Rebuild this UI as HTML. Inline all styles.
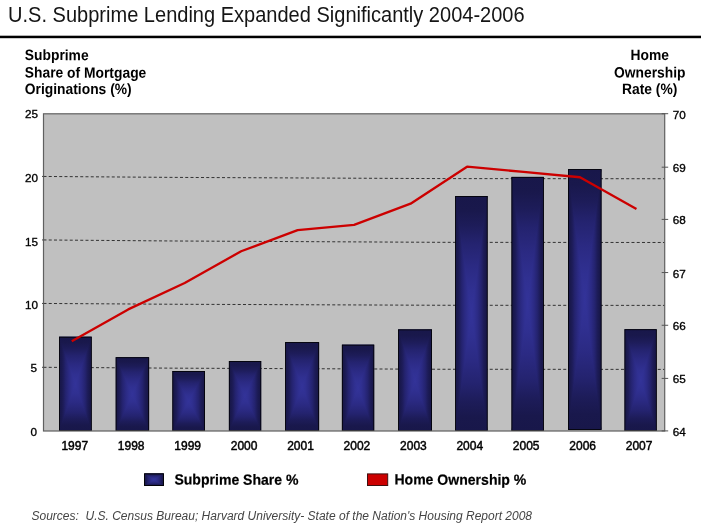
<!DOCTYPE html>
<html><head><meta charset="utf-8"><title>U.S. Subprime Lending Expanded Significantly 2004-2006</title>
<style>
html,body{margin:0;padding:0;background:#fff;}
svg{display:block;font-family:"Liberation Sans",Arial,sans-serif;}
.ax{font-size:12px;fill:#000;stroke:#000;stroke-width:0.45px;}
.b{font-weight:bold;}
</style></head><body>
<svg width="701" height="529" viewBox="0 0 701 529">
<defs>
<linearGradient id="gh" x1="0" y1="0" x2="1" y2="0"><stop offset="0.000" stop-color="#18174a"/><stop offset="0.060" stop-color="#19184c"/><stop offset="0.125" stop-color="#1d1c59"/><stop offset="0.200" stop-color="#24236f"/><stop offset="0.300" stop-color="#2b2a83"/><stop offset="0.400" stop-color="#303091"/><stop offset="0.500" stop-color="#333399"/><stop offset="0.600" stop-color="#303091"/><stop offset="0.700" stop-color="#2b2a83"/><stop offset="0.800" stop-color="#24236f"/><stop offset="0.875" stop-color="#1d1c59"/><stop offset="0.940" stop-color="#19184c"/><stop offset="1.000" stop-color="#18174a"/></linearGradient>
<linearGradient id="gt" x1="0" y1="0" x2="0" y2="1"><stop offset="0" stop-color="#18174a"/><stop offset="0.12" stop-color="#19184c"/><stop offset="0.25" stop-color="#1d1c59"/><stop offset="0.4" stop-color="#24236f"/><stop offset="0.6" stop-color="#2b2a83"/><stop offset="0.8" stop-color="#303091"/><stop offset="1" stop-color="#333399"/></linearGradient>
<linearGradient id="gb" x1="0" y1="1" x2="0" y2="0"><stop offset="0" stop-color="#18174a"/><stop offset="0.12" stop-color="#19184c"/><stop offset="0.25" stop-color="#1d1c59"/><stop offset="0.4" stop-color="#24236f"/><stop offset="0.6" stop-color="#2b2a83"/><stop offset="0.8" stop-color="#303091"/><stop offset="1" stop-color="#333399"/></linearGradient>
</defs>
<rect width="701" height="529" fill="#fff"/>
<text transform="translate(8.1 22.0) scale(1.0016 1.07)" x="0" y="0" font-size="20px" fill="#151515">U.S. Subprime Lending Expanded Significantly 2004-2006</text>
<rect x="0" y="35.7" width="701" height="2.5" fill="#000"/>

<g class="b" font-size="13.85px" fill="#000">
<text transform="translate(24.8 60.1) rotate(0.04) scale(1 1.085)" x="0" y="0">Subprime</text>
<text transform="translate(24.8 77.6) rotate(0.04) scale(1 1.085)" x="0" y="0">Share of Mortgage</text>
<text transform="translate(24.8 94.0) rotate(0.04) scale(1 1.085)" x="0" y="0">Originations (%)</text>
<text transform="translate(649.7 60.1) rotate(0.04) scale(1 1.085)" x="0" y="0" text-anchor="middle">Home</text>
<text transform="translate(649.7 77.6) rotate(0.04) scale(1 1.085)" x="0" y="0" text-anchor="middle">Ownership</text>
<text transform="translate(649.7 94.0) rotate(0.04) scale(1 1.085)" x="0" y="0" text-anchor="middle">Rate (%)</text>
</g>
<rect x="43.5" y="113.8" width="621.2" height="317.2" fill="#c0c0c0"/>
<polyline points="43.5,367.30 172,368.15 440,369.25 664.7,369.40" fill="none" stroke="#333" stroke-width="1" stroke-dasharray="3 2.25"/>
<polyline points="43.5,303.45 172,304.24 440,305.26 664.7,305.40" fill="none" stroke="#333" stroke-width="1" stroke-dasharray="3 2.25"/>
<polyline points="43.5,239.95 172,240.98 440,242.32 664.7,242.50" fill="none" stroke="#333" stroke-width="1" stroke-dasharray="3 2.25"/>
<polyline points="43.5,176.45 172,177.38 440,178.59 664.7,178.75" fill="none" stroke="#333" stroke-width="1" stroke-dasharray="3 2.25"/>
<g><rect x="59.10" y="336.75" width="32.60" height="94.25" fill="url(#gh)"/><polygon points="59.10,336.75 91.70,336.75 75.40,383.88" fill="url(#gt)"/><polygon points="59.10,431.00 91.70,431.00 75.40,383.88" fill="url(#gb)"/><rect x="59.50" y="337.15" width="31.80" height="93.45" fill="none" stroke="#000" stroke-width="0.8"/></g>
<g><rect x="115.70" y="357.30" width="33.40" height="73.70" fill="url(#gh)"/><polygon points="115.70,357.30 149.10,357.30 132.40,394.15" fill="url(#gt)"/><polygon points="115.70,431.00 149.10,431.00 132.40,394.15" fill="url(#gb)"/><rect x="116.10" y="357.70" width="32.60" height="72.90" fill="none" stroke="#000" stroke-width="0.8"/></g>
<g><rect x="172.40" y="371.00" width="32.60" height="60.00" fill="url(#gh)"/><polygon points="172.40,371.00 205.00,371.00 188.70,401.00" fill="url(#gt)"/><polygon points="172.40,431.00 205.00,431.00 188.70,401.00" fill="url(#gb)"/><rect x="172.80" y="371.40" width="31.80" height="59.20" fill="none" stroke="#000" stroke-width="0.8"/></g>
<g><rect x="228.90" y="361.00" width="32.30" height="70.00" fill="url(#gh)"/><polygon points="228.90,361.00 261.20,361.00 245.05,396.00" fill="url(#gt)"/><polygon points="228.90,431.00 261.20,431.00 245.05,396.00" fill="url(#gb)"/><rect x="229.30" y="361.40" width="31.50" height="69.20" fill="none" stroke="#000" stroke-width="0.8"/></g>
<g><rect x="285.10" y="342.20" width="34.00" height="88.80" fill="url(#gh)"/><polygon points="285.10,342.20 319.10,342.20 302.10,386.60" fill="url(#gt)"/><polygon points="285.10,431.00 319.10,431.00 302.10,386.60" fill="url(#gb)"/><rect x="285.50" y="342.60" width="33.20" height="88.00" fill="none" stroke="#000" stroke-width="0.8"/></g>
<g><rect x="341.90" y="344.70" width="32.30" height="86.30" fill="url(#gh)"/><polygon points="341.90,344.70 374.20,344.70 358.05,387.85" fill="url(#gt)"/><polygon points="341.90,431.00 374.20,431.00 358.05,387.85" fill="url(#gb)"/><rect x="342.30" y="345.10" width="31.50" height="85.50" fill="none" stroke="#000" stroke-width="0.8"/></g>
<g><rect x="398.10" y="329.45" width="33.90" height="101.55" fill="url(#gh)"/><polygon points="398.10,329.45 432.00,329.45 415.05,380.23" fill="url(#gt)"/><polygon points="398.10,431.00 432.00,431.00 415.05,380.23" fill="url(#gb)"/><rect x="398.50" y="329.85" width="33.10" height="100.75" fill="none" stroke="#000" stroke-width="0.8"/></g>
<g><rect x="455.20" y="196.00" width="32.40" height="235.00" fill="url(#gh)"/><polygon points="455.20,196.00 487.60,196.00 471.40,313.50" fill="url(#gt)"/><polygon points="455.20,431.00 487.60,431.00 471.40,313.50" fill="url(#gb)"/><rect x="455.60" y="196.40" width="31.60" height="234.20" fill="none" stroke="#000" stroke-width="0.8"/></g>
<g><rect x="511.50" y="176.90" width="32.30" height="254.10" fill="url(#gh)"/><polygon points="511.50,176.90 543.80,176.90 527.65,303.95" fill="url(#gt)"/><polygon points="511.50,431.00 543.80,431.00 527.65,303.95" fill="url(#gb)"/><rect x="511.90" y="177.30" width="31.50" height="253.30" fill="none" stroke="#000" stroke-width="0.8"/></g>
<g><rect x="568.00" y="169.20" width="33.50" height="260.60" fill="url(#gh)"/><polygon points="568.00,169.20 601.50,169.20 584.75,299.50" fill="url(#gt)"/><polygon points="568.00,429.80 601.50,429.80 584.75,299.50" fill="url(#gb)"/><rect x="568.40" y="169.60" width="32.70" height="259.80" fill="none" stroke="#000" stroke-width="0.8"/></g>
<g><rect x="624.50" y="329.30" width="32.20" height="101.70" fill="url(#gh)"/><polygon points="624.50,329.30 656.70,329.30 640.60,380.15" fill="url(#gt)"/><polygon points="624.50,431.00 656.70,431.00 640.60,380.15" fill="url(#gb)"/><rect x="624.90" y="329.70" width="31.40" height="100.90" fill="none" stroke="#000" stroke-width="0.8"/></g>
<rect x="43.5" y="113.8" width="621.2" height="317.2" fill="none" stroke="#606060" stroke-width="1.2"/>
<line x1="661.7" y1="430.90" x2="668.2" y2="430.90" stroke="#555" stroke-width="1"/>
<line x1="661.7" y1="378.40" x2="668.2" y2="378.40" stroke="#555" stroke-width="1"/>
<line x1="661.7" y1="325.27" x2="668.2" y2="325.27" stroke="#555" stroke-width="1"/>
<line x1="661.7" y1="272.55" x2="668.2" y2="272.55" stroke="#555" stroke-width="1"/>
<line x1="661.7" y1="219.40" x2="668.2" y2="219.40" stroke="#555" stroke-width="1"/>
<line x1="661.7" y1="167.20" x2="668.2" y2="167.20" stroke="#555" stroke-width="1"/>
<line x1="661.7" y1="113.70" x2="668.2" y2="113.70" stroke="#555" stroke-width="1"/>
<line x1="42.0" y1="367.30" x2="43.5" y2="367.30" stroke="#444" stroke-width="1"/>
<line x1="42.0" y1="303.45" x2="43.5" y2="303.45" stroke="#444" stroke-width="1"/>
<line x1="42.0" y1="239.95" x2="43.5" y2="239.95" stroke="#444" stroke-width="1"/>
<line x1="42.0" y1="176.45" x2="43.5" y2="176.45" stroke="#444" stroke-width="1"/>
<polyline points="71.74,341.13 128.21,309.41 184.68,282.97 241.15,251.25 297.63,230.11 354.10,224.82 410.57,203.67 467.05,166.67 523.52,171.95 579.99,177.24 636.46,208.96" fill="none" stroke="#cc0000" stroke-width="2.3" stroke-linejoin="round"/>
<g class="ax">
<text x="37.0" y="435.8" text-anchor="end" font-size="11.7px" stroke-width="0.33">0</text>
<text x="37.0" y="372.4" text-anchor="end" font-size="11.7px" stroke-width="0.33">5</text>
<text x="38.1" y="308.9" text-anchor="end" font-size="11.7px" stroke-width="0.33">10</text>
<text x="38.1" y="245.5" text-anchor="end" font-size="11.7px" stroke-width="0.33">15</text>
<text x="38.1" y="182.0" text-anchor="end" font-size="11.7px" stroke-width="0.33">20</text>
<text x="38.1" y="118.1" text-anchor="end" font-size="11.7px" stroke-width="0.33">25</text>
<text x="672.8" y="435.8" font-size="11.7px" stroke-width="0.33">64</text>
<text x="672.8" y="383.3" font-size="11.7px" stroke-width="0.33">65</text>
<text x="672.8" y="330.0" font-size="11.7px" stroke-width="0.33">66</text>
<text x="672.8" y="277.8" font-size="11.7px" stroke-width="0.33">67</text>
<text x="672.8" y="224.4" font-size="11.7px" stroke-width="0.33">68</text>
<text x="672.8" y="172.1" font-size="11.7px" stroke-width="0.33">69</text>
<text x="672.8" y="118.7" font-size="11.7px" stroke-width="0.33">70</text>
<text x="74.8" y="449.7" text-anchor="middle">1997</text>
<text x="131.2" y="449.7" text-anchor="middle">1998</text>
<text x="187.7" y="449.7" text-anchor="middle">1999</text>
<text x="244.1" y="449.7" text-anchor="middle">2000</text>
<text x="300.5" y="449.7" text-anchor="middle">2001</text>
<text x="356.9" y="449.7" text-anchor="middle">2002</text>
<text x="413.4" y="449.7" text-anchor="middle">2003</text>
<text x="469.8" y="449.7" text-anchor="middle">2004</text>
<text x="526.2" y="449.7" text-anchor="middle">2005</text>
<text x="582.7" y="449.7" text-anchor="middle">2006</text>
<text x="639.1" y="449.7" text-anchor="middle">2007</text>
</g>
<g><rect x="144.10" y="473.40" width="19.80" height="12.60" fill="url(#gh)"/><polygon points="144.10,473.40 163.90,473.40 154.00,479.70" fill="url(#gt)"/><polygon points="144.10,486.00 163.90,486.00 154.00,479.70" fill="url(#gb)"/><rect x="144.55" y="473.85" width="18.90" height="11.70" fill="none" stroke="#000" stroke-width="0.9"/></g>
<rect x="367.5" y="473.9" width="20.2" height="11.6" fill="#cc0000" stroke="#401010" stroke-width="1"/>
<g class="b" font-size="14.06px" fill="#000" stroke="#000" stroke-width="0.2"><text transform="translate(174.4 484.6) rotate(0.04) scale(1 1.05)" x="0" y="0">Subprime Share %</text><text transform="translate(394.4 484.6) rotate(0.04) scale(1 1.05)" x="0" y="0">Home Ownership %</text></g>
<text x="31.5" y="520" font-size="12px" font-style="italic" fill="#444" style="white-space:pre">Sources:  U.S. Census Bureau; Harvard University- State of the Nation's Housing Report 2008</text>
</svg></body></html>
